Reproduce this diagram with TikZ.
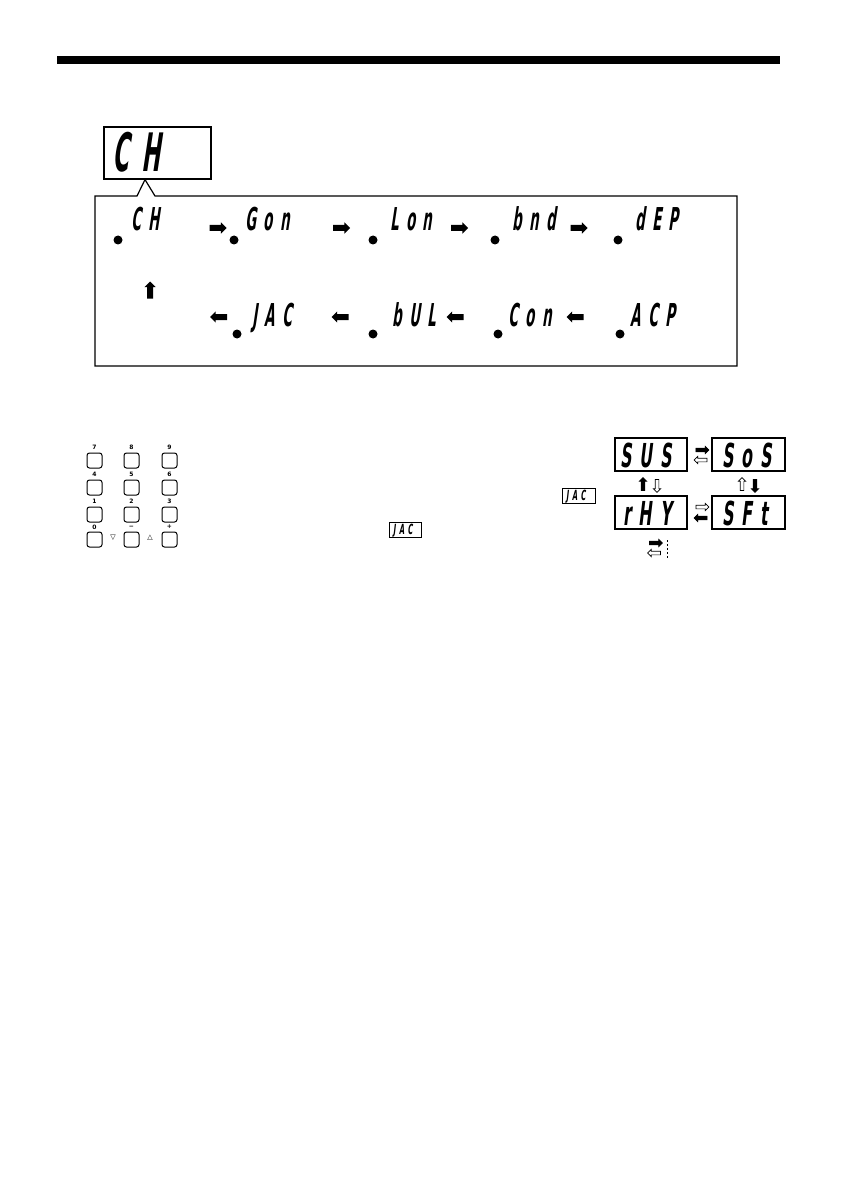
\documentclass[tikz,border=0pt]{standalone}
\usepackage{fontspec}
\usetikzlibrary{shapes.arrows}
\newfontfamily\seg[FakeStretch=0.42,FakeSlant=0.15,LetterSpace=24]{DejaVu Sans}
\newfontfamily\segb[FakeStretch=0.48,FakeSlant=0.12,LetterSpace=24]{DejaVu Sans}
\newfontfamily\keyf{DejaVu Sans}
\begin{document}
\begin{tikzpicture}[x=1pt,y=-1pt,
  segrow/.style={font=\seg\bfseries\fontsize{31.5}{32}\selectfont, anchor=base west, inner sep=0},
  segbig/.style={font=\seg\bfseries\fontsize{53}{54}\selectfont, anchor=base west, inner sep=0},
  segbox/.style={font=\segb\bfseries\fontsize{33}{34}\selectfont, anchor=base west, inner sep=0},
  segsmall/.style={font=\segb\bfseries\fontsize{14}{15}\selectfont, anchor=base west, inner sep=0},
  ldot/.style={circle, fill=black, inner sep=0, minimum size=9},
  disp/.style={draw=black, line width=1.2pt, inner sep=0},
  key/.style={draw=black, line width=1pt, rounded corners=2.5pt, inner sep=0, minimum width=15, minimum height=15},
  keylab/.style={font=\keyf\bfseries\fontsize{6}{6}\selectfont, inner sep=0},
  barr/.style={single arrow, fill=black, inner xsep=0, inner ysep=2.8, minimum height=17, single arrow head extend=2.6},
  barrv/.style={single arrow, fill=black, inner ysep=0, inner xsep=2.8, minimum height=17, single arrow head extend=2.6},
  sarr/.style={single arrow, draw=black, line width=0.7pt, inner xsep=0, inner ysep=1.5, minimum height=13, single arrow head extend=1.8},
  sarrv/.style={single arrow, draw=black, line width=0.7pt, inner ysep=0, inner xsep=1.5, minimum height=13, single arrow head extend=1.8},
  sbarr/.style={sarr, fill=black},
  swarr/.style={sarr, fill=white},
  sbarrv/.style={sarrv, fill=black},
  swarrv/.style={sarrv, fill=white},
  ]
\useasboundingbox (0,0) rectangle (840,1190);
% top rule
\fill (57,56) rectangle (780,64);

% big display
\node[disp, minimum width=107, minimum height=52] (bigbox) at (157.5,153) {};
\node[segbig] (bigtxt) at (112,172) {CH};

% panel with pointer
\draw[line width=1.2pt] (95,366) -- (95,196) -- (137,196) -- (bigbox.south -| 145,0) -- (155,196) -- (737,196) -- (737,366) -- cycle;

% row 1
\node[ldot] (d1) at (118,240) {};
\node[segrow] (t1) at (131,230) {CH};
\node[barr] (a1) at (216.5,228) {};
\node[ldot] (d2) at (234,240) {};
\node[segrow] (t2) at (245,230) {Gon};
\node[barr] (a2) at (340,228) {};
\node[ldot] (d3) at (373,240) {};
\node[segrow] (t3) at (390,230) {Lon};
\node[barr] (a3) at (458,228) {};
\node[ldot] (d4) at (495,240) {};
\node[segrow] (t4) at (512,230) {bnd};
\node[barr] (a4) at (577.5,228) {};
\node[ldot] (d5) at (618,240) {};
\node[segrow] (t5) at (635,230) {dEP};

% up arrow
\node[barrv, shape border rotate=90] (up) at (150,291.5) {};

% row 2
\node[barr, shape border rotate=180] (b1) at (220,317) {};
\node[ldot] (e1) at (237,334) {};
\node[segrow] (s1) at (252,326) {JAC};
\node[barr, shape border rotate=180] (b2) at (341.5,317) {};
\node[ldot] (e2) at (373,334) {};
\node[segrow] (s2) at (392,326) {bUL};
\node[barr, shape border rotate=180] (b3) at (456.5,317) {};
\node[ldot] (e3) at (498,334) {};
\node[segrow] (s3) at (508,326) {Con};
\node[barr, shape border rotate=180] (b4) at (576.5,317) {};
\node[ldot] (e4) at (620,334) {};
\node[segrow] (s4) at (630,326) {ACP};

% keypad
\foreach \c/\x in {1/94.5,2/131.5,3/169.5}{
  \foreach \r/\y in {1/460.5,2/487.5,3/514.5,4/539.5}{
    \node[key] (k\r\c) at (\x,\y) {};
  }
}
\node[keylab] (l7) at (94.5,447) {7};
\node[keylab] (l8) at (131.5,447) {8};
\node[keylab] (l9) at (169.5,447) {9};
\node[keylab] (l4) at (94.5,474) {4};
\node[keylab] (l5) at (131.5,474) {5};
\node[keylab] (l6) at (169.5,474) {6};
\node[keylab] (l1) at (94.5,501) {1};
\node[keylab] (l2) at (131.5,501) {2};
\node[keylab] (l3) at (169.5,501) {3};
\node[keylab] (l0) at (94.5,527) {0};
\node[keylab] (lm) at (131.5,527) {−};
\node[keylab] (lp) at (169.5,527) {+};
\node[font=\keyf\bfseries\fontsize{7}{7}\selectfont, inner sep=0] (dn) at (113,538) {▽};
\node[font=\keyf\bfseries\fontsize{7}{7}\selectfont, inner sep=0] (upk) at (150,538) {△};

% small JAC displays
\node[draw=black, line width=0.8pt, minimum width=33, minimum height=15, inner sep=0] (jac1) at (578.5,495.5) {};
\node[segsmall] (jt1) at (566,500.5) {JAC};
\node[draw=black, line width=0.8pt, minimum width=32, minimum height=15, inner sep=0] (jac2) at (405,529.5) {};
\node[segsmall] (jt2) at (393,534.5) {JAC};

% right display grid
\node[disp, minimum width=72, minimum height=33] (sus) at (651,454.5) {};
\node[segbox] (tsus) at (620,467) {SUS};
\node[disp, minimum width=73, minimum height=33] (sos) at (748.5,454.5) {};
\node[segbox] (tsos) at (722,467) {SoS};
\node[disp, minimum width=72, minimum height=33] (rhy) at (651,512.5) {};
\node[segbox] (trhy) at (623,525) {rHY};
\node[disp, minimum width=73, minimum height=33] (sft) at (748.5,512.5) {};
\node[segbox] (tsft) at (722,525) {SFt};

\node[sbarr] (g1) at (701.5,450) {};
\node[swarr, shape border rotate=180] (g2) at (701.5,460) {};
\node[sbarrv, shape border rotate=90] (g3) at (643,485) {};
\node[swarrv, shape border rotate=270] (g4) at (657,485) {};
\node[swarrv, shape border rotate=90] (g5) at (742,485) {};
\node[sbarrv, shape border rotate=270] (g6) at (755,485) {};
\node[swarr] (g7) at (701.5,507) {};
\node[sbarr, shape border rotate=180] (g8) at (701.5,518) {};
\node[sbarr] (g9) at (655,543) {};
\node[swarr, shape border rotate=180] (g10) at (655,553) {};
\coordinate (dt) at (667,540);
\coordinate (db) at (667,560);
\draw[line width=1pt, dash pattern=on 1.5pt off 2.5pt] (dt) -- (db);
\end{tikzpicture}
\end{document}
